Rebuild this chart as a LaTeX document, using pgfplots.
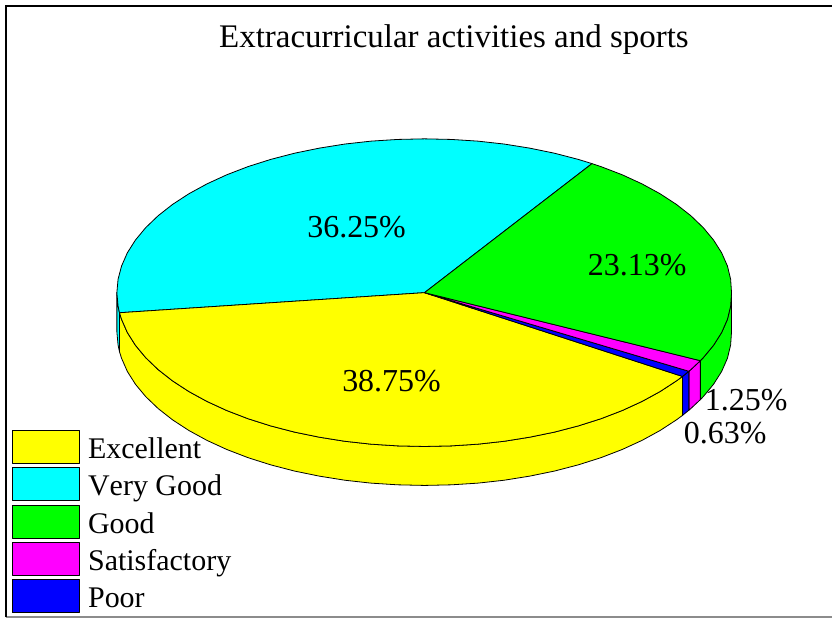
\documentclass[border=0pt]{standalone}
\usepackage{fontspec}
\setmainfont[Kerning=Off]{Liberation Serif}
\usepackage{pgfplots}
\pgfplotsset{compat=1.18}
\definecolor{cy}{RGB}{0,255,255}
\definecolor{ye}{RGB}{255,255,0}
\definecolor{gr}{RGB}{0,255,0}
\definecolor{ma}{RGB}{255,0,255}
\definecolor{bl}{RGB}{0,0,255}
\tikzset{
  slice/.style={draw=black,line width=0.8pt,line join=round},
  lab/.style={anchor=base,inner sep=0pt,font=\fontsize{32}{32}\selectfont},
  leg/.style={anchor=base west,inner sep=0pt,font=\fontsize{30}{30}\selectfont}}
\begin{document}
\begin{tikzpicture}
\begin{axis}[hide axis,scale only axis,width=833pt,height=619pt,
  xmin=0,xmax=833,ymin=0,ymax=619,y dir=reverse,clip=false]
% page extent
\addplot[draw=none] coordinates {(0,0) (833,619)};
% frame
\addplot[color=black!45,line width=1.6pt] coordinates {(6,618) (833,618)};
\addplot[color=black,line width=2pt] coordinates {(6,618) (6,6) (833,6)};
% side walls
\addplot[slice,fill=cy] coordinates {(117,293) (118.2,306.4) (119.6,313.1) (119.6,352.1) (118.2,345.4) (117,332)} -- cycle;
\addplot[slice,fill=gr] coordinates {(701.2,361.1) (704.1,358.1) (714.4,345.7) (722.5,332.9) (728.3,319.7) (731.5,306.4) (732.4,293) (732.4,332) (731.5,345.4) (728.3,358.7) (722.5,371.9) (714.4,384.7) (704.1,397.1) (701.2,400.1)} -- cycle;
\addplot[slice,fill=ma] coordinates {(689.7,371.7) (691.7,370.0) (701.2,361.1) (701.2,400.1) (691.7,409.0) (689.7,410.7)} -- cycle;
\addplot[slice,fill=bl] coordinates {(683.3,376.9) (689.7,371.7) (689.7,410.7) (683.3,415.9)} -- cycle;
\addplot[slice,fill=ye] coordinates {(119.6,313.1) (121.7,319.7) (127.5,332.9) (135.6,345.7) (145.9,358.1) (158.3,370.0) (172.7,381.3) (189.1,392.0) (207.2,401.9) (227.0,411.0) (248.3,419.2) (271.0,426.4) (294.8,432.6) (319.7,437.7) (345.3,441.8) (371.5,444.7) (398.1,446.4) (425,447) (451.9,446.4) (478.5,444.7) (504.7,441.8) (530.3,437.7) (555.2,432.6) (579.0,426.4) (601.7,419.2) (623.0,411.0) (642.8,401.9) (660.9,392.0) (677.3,381.3) (683.3,376.9)
 (683.3,415.9) (677.3,420.3) (660.9,431.0) (642.8,440.9) (623.0,450.0) (601.7,458.2) (579.0,465.4) (555.2,471.6) (530.3,476.7) (504.7,480.8) (478.5,483.7) (451.9,485.4) (425,486) (398.1,485.4) (371.5,483.7) (345.3,480.8) (319.7,476.7) (294.8,471.6) (271.0,465.4) (248.3,458.2) (227.0,450.0) (207.2,440.9) (189.1,431.0) (172.7,420.3) (158.3,409.0) (145.9,397.1) (135.6,384.7) (127.5,371.9) (121.7,358.7) (119.6,352.1)} -- cycle;
% top sectors
\addplot[slice,fill=cy] coordinates {(425,293) (592.7,163.8) (579.0,159.6) (555.2,153.4) (530.3,148.3) (504.7,144.2) (478.5,141.3) (451.9,139.6) (425,139) (398.1,139.6) (371.5,141.3) (345.3,144.2) (319.7,148.3) (294.8,153.4) (271.0,159.6) (248.3,166.8) (227.0,175.0) (207.2,184.1) (189.1,194.0) (172.7,204.7) (158.3,216.0) (145.9,227.9) (135.6,240.3) (127.5,253.1) (121.7,266.3) (118.2,279.6) (117,293) (118.2,306.4) (119.6,313.1)} -- cycle;
\addplot[slice,fill=ye] coordinates {(425,293) (119.6,313.1) (121.7,319.7) (127.5,332.9) (135.6,345.7) (145.9,358.1) (158.3,370.0) (172.7,381.3) (189.1,392.0) (207.2,401.9) (227.0,411.0) (248.3,419.2) (271.0,426.4) (294.8,432.6) (319.7,437.7) (345.3,441.8) (371.5,444.7) (398.1,446.4) (425,447) (451.9,446.4) (478.5,444.7) (504.7,441.8) (530.3,437.7) (555.2,432.6) (579.0,426.4) (601.7,419.2) (623.0,411.0) (642.8,401.9) (660.9,392.0) (677.3,381.3) (683.3,376.9)} -- cycle;
\addplot[slice,fill=bl] coordinates {(425,293) (683.3,376.9) (689.7,371.7)} -- cycle;
\addplot[slice,fill=ma] coordinates {(425,293) (689.7,371.7) (691.7,370.0) (701.2,361.1)} -- cycle;
\addplot[slice,fill=gr] coordinates {(425,293) (701.2,361.1) (704.1,358.1) (714.4,345.7) (722.5,332.9) (728.3,319.7) (731.5,306.4) (732.4,293) (731.5,279.6) (728.3,266.3) (722.5,253.1) (714.4,240.3) (704.1,227.9) (691.7,216.0) (677.3,204.7) (660.9,194.0) (642.8,184.1) (623.0,175.0) (601.7,166.8) (592.7,163.8)} -- cycle;
% legend
\addplot[slice,fill=ye] coordinates {(12.5,431) (79.5,431) (79.5,464) (12.5,464)} -- cycle;
\addplot[slice,fill=cy] coordinates {(12.5,468.3) (79.5,468.3) (79.5,501.3) (12.5,501.3)} -- cycle;
\addplot[slice,fill=gr] coordinates {(12.5,505.7) (79.5,505.7) (79.5,538.7) (12.5,538.7)} -- cycle;
\addplot[slice,fill=ma] coordinates {(12.5,543) (79.5,543) (79.5,576) (12.5,576)} -- cycle;
\addplot[slice,fill=bl] coordinates {(12.5,580.3) (79.5,580.3) (79.5,613.3) (12.5,613.3)} -- cycle;
\node[leg] at (axis cs:88,459) {Excellent};
\node[leg] at (axis cs:88,496) {Very Good};
\node[leg] at (axis cs:88,534) {Good};
\node[leg] at (axis cs:88,571) {Satisfactory};
\node[leg] at (axis cs:88,608) {Poor};
% labels
\node[lab,font=\fontsize{33}{33}\selectfont] at (axis cs:454.5,48) {Extracurricular activities and sports};
\node[lab] at (axis cs:357,238) {36.25\%};
\node[lab] at (axis cs:638,276) {23.13\%};
\node[lab] at (axis cs:392,392) {38.75\%};
\node[lab] at (axis cs:747,411) {1.25\%};
\node[lab] at (axis cs:726,444) {0.63\%};
\end{axis}
\end{tikzpicture}
\end{document}
